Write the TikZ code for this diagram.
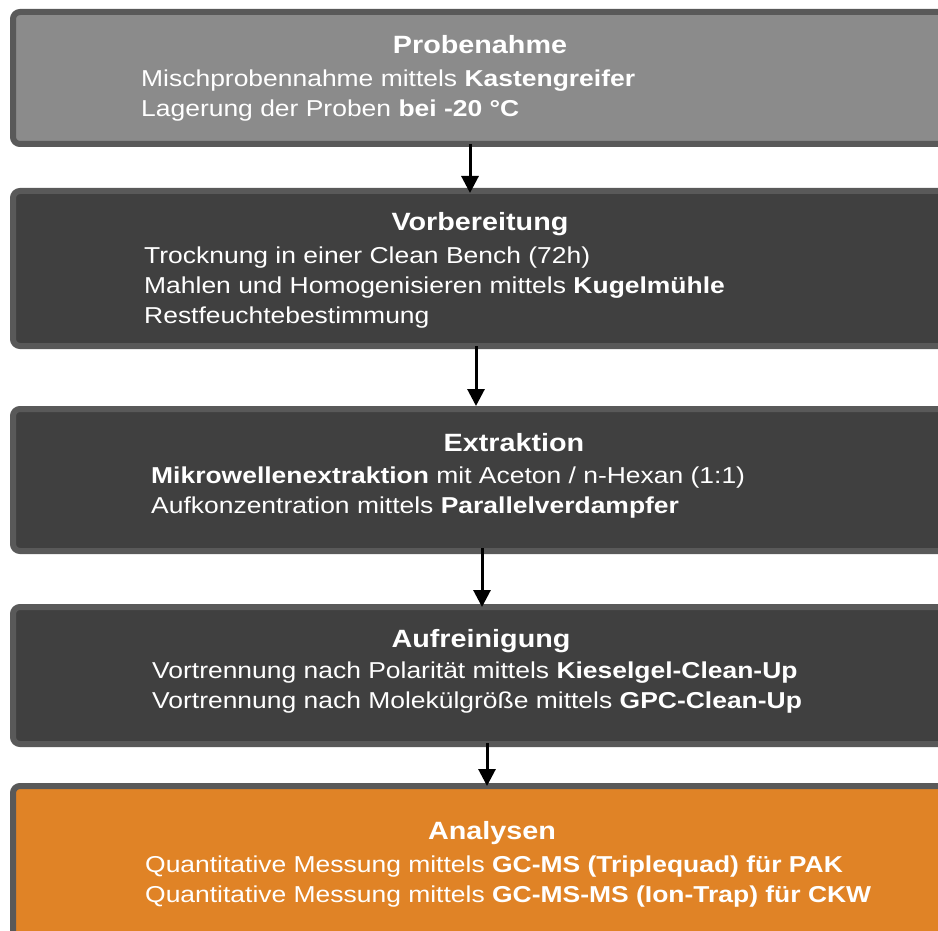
\documentclass[tikz,border=0pt]{standalone}
\usepackage{fontspec}
\setmainfont{Liberation Sans}[FakeStretch=1.15]
\usetikzlibrary{arrows.meta}
\definecolor{boxgray}{HTML}{8B8B8B}
\definecolor{boxdark}{HTML}{404040}
\definecolor{boxorange}{HTML}{E08326}
\definecolor{boxborder}{HTML}{595959}
\begin{document}
\begin{tikzpicture}[x=1pt,y=-1pt,
  stagebox/.style={draw=boxborder, line width=6pt, rounded corners=7pt, outer sep=0pt, inner sep=0pt, anchor=north west, minimum width=947pt},
  titletext/.style={text=white, font=\fontsize{25}{30}\selectfont\bfseries, anchor=base, inner sep=0pt},
  bodytext/.style={text=white, font=\fontsize{23}{30}\selectfont, align=left, anchor=base west, inner sep=0pt},
  arr/.style={line width=3pt, -{Triangle[width=17pt,length=17pt]}}]
\useasboundingbox (0,0) rectangle (938,931);
\clip (0,0) rectangle (938,931);
% boxes
\node[stagebox, fill=boxgray,   minimum height=132pt] (b1) at (13,12) {};
\node[stagebox, fill=boxdark,   minimum height=155pt] (b2) at (13,191) {};
\node[stagebox, fill=boxdark,   minimum height=142pt] (b3) at (13,409) {};
\node[stagebox, fill=boxdark,   minimum height=137pt] (b4) at (13,607) {};
\node[stagebox, fill=boxorange, minimum height=174pt] (b5) at (13,786) {};
% arrows
\draw[arr] ([xshift=-16.5pt]b1.south) -- ([xshift=-16.5pt,yshift=-2pt]b2.north);
\draw[arr] ([xshift=-10.5pt]b2.south) -- ([xshift=-10.5pt,yshift=3pt]b3.north);
\draw[arr] ([xshift=-4.5pt,yshift=3pt]b3.south) -- ([xshift=-4.5pt]b4.north);
\draw[arr] ([xshift=0.5pt,yshift=1pt]b4.south) -- ([xshift=0.5pt]b5.north);
% texts (base anchor of a multi-line node = baseline of its last line)
\node[titletext] (h1) at (480,54) {Probenahme};
\node[bodytext] (t1) at (141,117) {Mischprobennahme mittels \textbf{Kastengreifer}\\Lagerung der Proben \textbf{bei -20 °C}};
\node[titletext] (h2) at (480,230) {Vorbereitung};
\node[bodytext] (t2) at (144,323) {Trocknung in einer Clean Bench (72h)\\Mahlen und Homogenisieren mittels \textbf{Kugelmühle}\\Restfeuchtebestimmung};
\node[titletext] (h3) at (514,451) {Extraktion};
\node[bodytext] (t3) at (151,513) {\textbf{Mikrowellenextraktion} mit Aceton / n-Hexan (1:1)\\Aufkonzentration mittels \textbf{Parallelverdampfer}};
\node[titletext] (h4) at (481,647) {Aufreinigung};
\node[bodytext] (t4) at (152,708) {Vortrennung nach Polarität mittels \textbf{Kieselgel-Clean-Up}\\Vortrennung nach Molekülgröße mittels \textbf{GPC-Clean-Up}};
\node[titletext] (h5) at (492,839) {Analysen};
\node[bodytext] (t5) at (145,902) {Quantitative Messung mittels \textbf{GC-MS (Triplequad) für PAK}\\Quantitative Messung mittels \textbf{GC-MS-MS (Ion-Trap) für CKW}};
\end{tikzpicture}
\end{document}
